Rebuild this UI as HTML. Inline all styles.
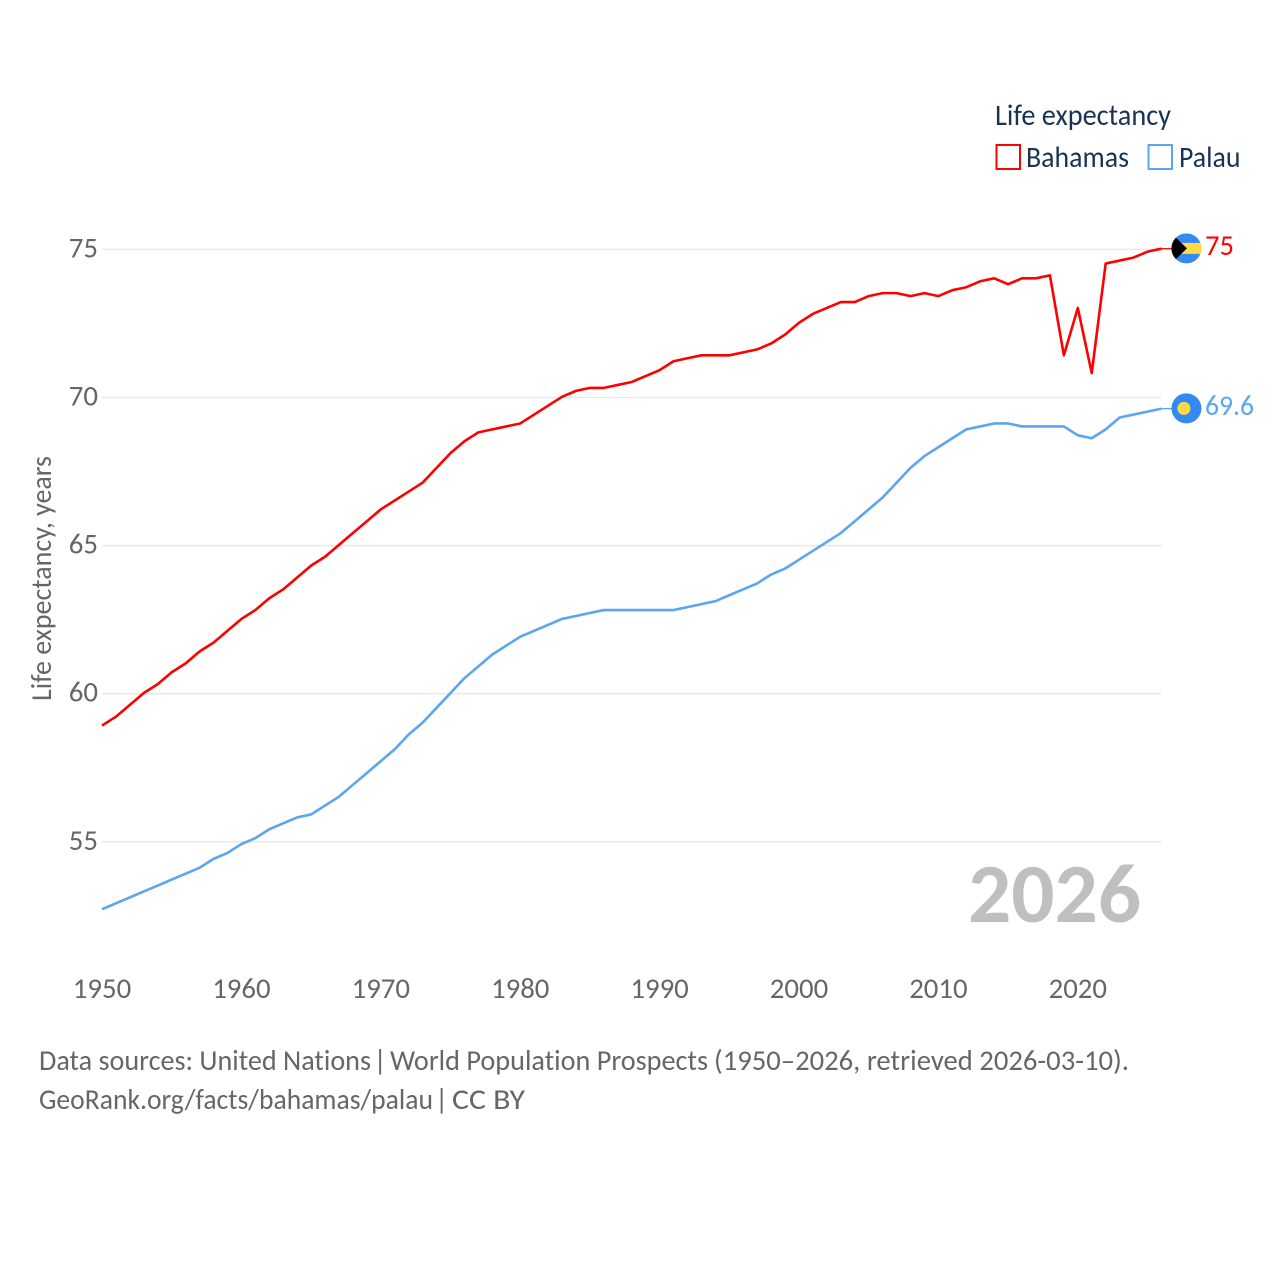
<!DOCTYPE html>
<html lang="en">
<head>
<meta charset="utf-8">
<title>Life expectancy: Bahamas and Palau</title>
<style>
html,body{margin:0;padding:0;background:#fff;}
svg{display:block;}
text{font-family:"Carlito","Lato","Liberation Sans",sans-serif;font-variant-ligatures:none;}
</style>
</head>
<body>
<svg id="chart" xmlns="http://www.w3.org/2000/svg" width="1280" height="1280" viewBox="0 0 1280 1280">
  <defs>
    <clipPath id="flag-clip"><circle cx="0" cy="0" r="15"/></clipPath>
  </defs>
  <rect x="0" y="0" width="1280" height="1280" fill="#ffffff"/>
  <g id="grid"></g>
  <g id="y-ticks"></g>
  <g id="x-ticks"></g>

  <text transform="translate(51,701) rotate(-90)" font-size="28.5" fill="#666666" textLength="245" lengthAdjust="spacingAndGlyphs">Life expectancy, years</text>

  <text x="968" y="922" font-size="84" font-weight="700" fill="#bfbfbf" textLength="173" lengthAdjust="spacingAndGlyphs">2026</text>

  <g id="series"></g>

  <g id="flag-bahamas">
    <g clip-path="url(#flag-clip)">
      <rect x="-15" y="-15" width="30" height="30" fill="#338af3"/>
      <rect x="-15" y="-5.5" width="30" height="11" fill="#ffda44"/>
      <polygon points="-16,-16 0.5,0 -16,16" fill="#000000"/>
    </g>
  </g>
  <g id="flag-palau">
    <circle cx="0" cy="0" r="15" fill="#338af3"/>
    <circle cx="-2.5" cy="0" r="6.5" fill="#ffda44"/>
  </g>

  <text id="label-bahamas" x="1205" font-size="28.8" fill="#ff0000" textLength="29" lengthAdjust="spacingAndGlyphs">75</text>
  <text id="label-palau" x="1205" font-size="28.8" fill="#5ca5f0" textLength="49" lengthAdjust="spacingAndGlyphs">69.6</text>

  <g>
    <text x="995" y="125" font-size="30" fill="#1a3355" textLength="176" lengthAdjust="spacingAndGlyphs">Life expectancy</text>
    <g>
      <rect x="996.5" y="145" width="23.5" height="24" fill="none" stroke="#ff0000" stroke-width="2"/>
      <text x="1026" y="167" font-size="30" fill="#1a3355" textLength="103" lengthAdjust="spacingAndGlyphs">Bahamas</text>
    </g>
    <g>
      <rect x="1148.5" y="145" width="23.5" height="24" fill="none" stroke="#5ca5f0" stroke-width="2"/>
      <text x="1179" y="167" font-size="30" fill="#1a3355" textLength="61.5" lengthAdjust="spacingAndGlyphs">Palau</text>
    </g>
  </g>

  <g font-size="28.8" fill="#666666">
    <text x="39" y="1070" textLength="332" lengthAdjust="spacingAndGlyphs">Data sources: United Nations</text>
    <text x="373.5" y="1070">|</text>
    <text x="390" y="1070" textLength="318" lengthAdjust="spacingAndGlyphs">World Population Prospects</text>
    <text x="714" y="1070" textLength="415" lengthAdjust="spacingAndGlyphs">(1950–2026, retrieved 2026-03-10).</text>
  </g>
  <g font-size="28.8" fill="#666666">
    <text x="39" y="1109" textLength="394" lengthAdjust="spacingAndGlyphs">GeoRank.org/facts/bahamas/palau</text>
    <text x="435" y="1109">|</text>
    <text x="452" y="1109" textLength="73" lengthAdjust="spacingAndGlyphs">CC BY</text>
  </g>
</svg>
<script>
const years = [1950,1951,1952,1953,1954,1955,1956,1957,1958,1959,1960,1961,1962,1963,1964,1965,1966,1967,1968,1969,1970,1971,1972,1973,1974,1975,1976,1977,1978,1979,1980,1981,1982,1983,1984,1985,1986,1987,1988,1989,1990,1991,1992,1993,1994,1995,1996,1997,1998,1999,2000,2001,2002,2003,2004,2005,2006,2007,2008,2009,2010,2011,2012,2013,2014,2015,2016,2017,2018,2019,2020,2021,2022,2023,2024,2025,2026];
const bahamas = [58.9,59.2,59.6,60.0,60.3,60.7,61.0,61.4,61.7,62.1,62.5,62.8,63.2,63.5,63.9,64.3,64.6,65.0,65.4,65.8,66.2,66.5,66.8,67.1,67.6,68.1,68.5,68.8,68.9,69.0,69.1,69.4,69.7,70.0,70.2,70.3,70.3,70.4,70.5,70.7,70.9,71.2,71.3,71.4,71.4,71.4,71.5,71.6,71.8,72.1,72.5,72.8,73.0,73.2,73.2,73.4,73.5,73.5,73.4,73.5,73.4,73.6,73.7,73.9,74.0,73.8,74.0,74.0,74.1,71.4,73.0,70.8,74.5,74.6,74.7,74.9,75.0];
const palau = [52.7,52.9,53.1,53.3,53.5,53.7,53.9,54.1,54.4,54.6,54.9,55.1,55.4,55.6,55.8,55.9,56.2,56.5,56.9,57.3,57.7,58.1,58.6,59.0,59.5,60.0,60.5,60.9,61.3,61.6,61.9,62.1,62.3,62.5,62.6,62.7,62.8,62.8,62.8,62.8,62.8,62.8,62.9,63.0,63.1,63.3,63.5,63.7,64.0,64.2,64.5,64.8,65.1,65.4,65.8,66.2,66.6,67.1,67.6,68.0,68.3,68.6,68.9,69.0,69.1,69.1,69.0,69.0,69.0,69.0,68.7,68.6,68.9,69.3,69.4,69.5,69.6];
const yTickValues = [55,60,65,70,75];
const xTickValues = [1950,1960,1970,1980,1990,2000,2010,2020];

const SVG_NS = 'http://www.w3.org/2000/svg';
function xScale(year) { return 102 + (year - 1950) * 13.94; }
function yScale(value) { return 841.8 - (value - 55) * 29.62; }
function make(tag, parent, attrs) {
  const el = document.createElementNS(SVG_NS, tag);
  for (const key in attrs) el.setAttribute(key, attrs[key]);
  parent.appendChild(el);
  return el;
}

const gridGroup = document.getElementById('grid');
const yGroup = document.getElementById('y-ticks');
yTickValues.forEach(function (v) {
  const line = make('line', gridGroup, { x1: xScale(1950), x2: xScale(2026), y1: yScale(v), y2: yScale(v), stroke: '#e9e9e9', 'stroke-width': 1.5 });
  
  
  const label = make('text', yGroup, { x: 98, y: yScale(v) + 8, 'text-anchor': 'end', 'font-size': 28.8, fill: '#666666' });
  
  
  label.textContent = String(v);
});

const xGroup = document.getElementById('x-ticks');
xTickValues.forEach(function (t) {
  const label = make('text', xGroup, { x: xScale(t), y: 998, 'text-anchor': 'middle', 'font-size': 28.8, fill: '#666666' });
  
  
  label.textContent = String(t);
});

const seriesGroup = document.getElementById('series');
const lineOffset = -0.7;
function drawSeries(values, color, name) {
  const pts = values.map(function (v, i) { return xScale(years[i]).toFixed(2) + ',' + (yScale(v) + lineOffset).toFixed(2); }).join(' ');
  const line = make('polyline', seriesGroup, { points: pts, fill: 'none', stroke: color, 'stroke-width': 2.6, 'stroke-linejoin': 'round' });
  
  
  const lastY = yScale(values[values.length - 1]) + lineOffset;
  const lastX = xScale(years[years.length - 1]);
  const leader = make('line', seriesGroup, { x1: lastX, x2: lastX + 10, y1: lastY, y2: lastY, stroke: color, 'stroke-width': 1.3 });
  
  
}
drawSeries(bahamas, '#ff0000', 'bahamas');
drawSeries(palau, '#5ca5f0', 'palau');

function placeEnd(flagId, labelId, values) {
  const v = values[values.length - 1];
  const y = yScale(v);
  document.getElementById(flagId).setAttribute('transform', 'translate(' + (xScale(years[years.length - 1]) + 25) + ',' + (y - 1) + ')');
  document.getElementById(labelId).setAttribute('y', y + 5.5);
  document.getElementById(labelId).textContent = String(v);
}
placeEnd('flag-bahamas', 'label-bahamas', bahamas);
placeEnd('flag-palau', 'label-palau', palau);
</script>
</body>
</html>
